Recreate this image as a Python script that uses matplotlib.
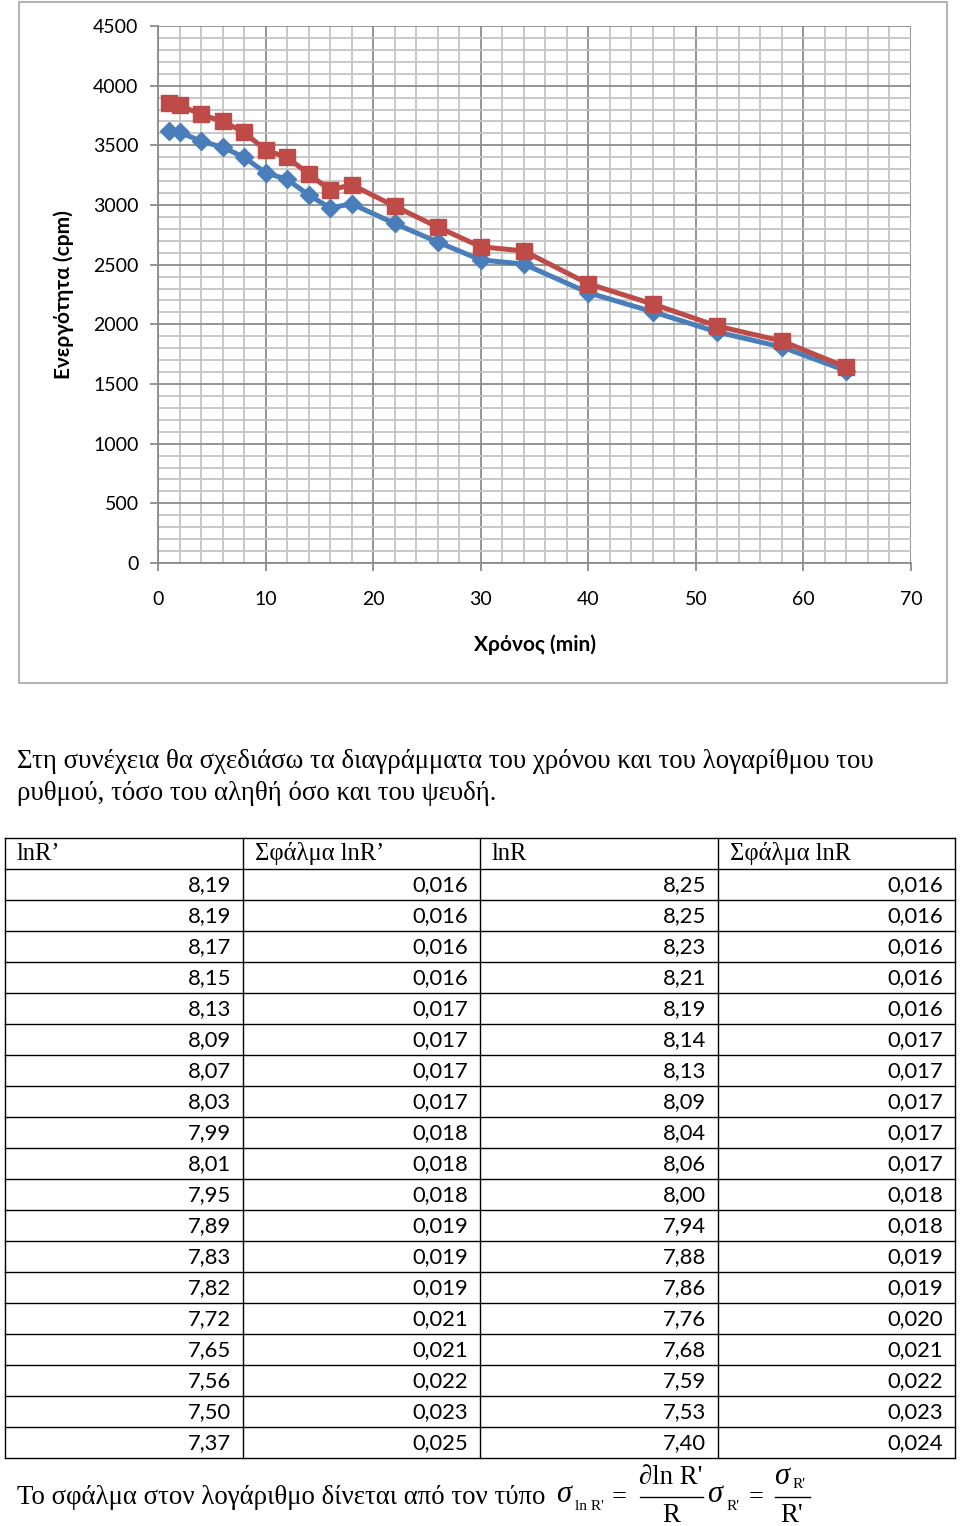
import matplotlib
matplotlib.use("Agg")
import matplotlib.pyplot as plt
from matplotlib.ticker import MultipleLocator
from matplotlib.patches import Rectangle

# ---------------- data ----------------
time_min = [1, 2, 4, 6, 8, 10, 12, 14, 16, 18, 22, 26, 30, 34, 40, 46, 52, 58, 64]
rate_corr = [3620, 3610, 3535, 3485, 3400, 3270, 3215, 3085, 2975, 3010,
             2845, 2690, 2540, 2505, 2265, 2105, 1935, 1810, 1610]   # blue (R')
rate_true = [3855, 3835, 3760, 3700, 3610, 3460, 3400, 3260, 3125, 3170,
             2990, 2815, 2650, 2615, 2340, 2170, 1985, 1860, 1640]   # red (R)

col_headers = ["lnR’", "Σφάλμα lnR’", "lnR", "Σφάλμα lnR"]
lnRp = ["8,19", "8,19", "8,17", "8,15", "8,13", "8,09", "8,07", "8,03", "7,99", "8,01",
        "7,95", "7,89", "7,83", "7,82", "7,72", "7,65", "7,56", "7,50", "7,37"]
err_lnRp = ["0,016", "0,016", "0,016", "0,016", "0,017", "0,017", "0,017", "0,017", "0,018", "0,018",
            "0,018", "0,019", "0,019", "0,019", "0,021", "0,021", "0,022", "0,023", "0,025"]
lnR = ["8,25", "8,25", "8,23", "8,21", "8,19", "8,14", "8,13", "8,09", "8,04", "8,06",
       "8,00", "7,94", "7,88", "7,86", "7,76", "7,68", "7,59", "7,53", "7,40"]
err_lnR = ["0,016", "0,016", "0,016", "0,016", "0,016", "0,017", "0,017", "0,017", "0,017", "0,017",
           "0,018", "0,018", "0,019", "0,019", "0,020", "0,021", "0,022", "0,023", "0,024"]

paragraph = ["Στη συνέχεια θα σχεδιάσω τα διαγράμματα του χρόνου και του λογαρίθμου του",
             "ρυθμού, τόσο του αληθή όσο και του ψευδή."]
formula_text = "Το σφάλμα στον λογάριθμο δίνεται από τον τύπο"

W, H = 960, 1526
SANS = ["Lato", "DejaVu Sans"]
SERIF = ["Liberation Serif", "DejaVu Serif"]

fig = plt.figure(figsize=(W / 100, H / 100), dpi=100)

# background overlay axes in pixel coordinates
bg = fig.add_axes([0, 0, 1, 1], zorder=0)
bg.set_xlim(0, W)
bg.set_ylim(H, 0)
bg.axis("off")

# chart frame
bg.add_patch(Rectangle((19, 2), 928, 681, fill=False, edgecolor="#a6a6a6", lw=1.2))

# ---------------- chart ----------------
L, R_, T, B = 158, 911, 26, 563
ax = fig.add_axes([L / W, 1 - B / H, (R_ - L) / W, (B - T) / H], zorder=2)
ax.set_facecolor("none")
ax.set_xlim(0, 70)
ax.set_ylim(0, 4500)
ax.xaxis.set_major_locator(MultipleLocator(10))
ax.xaxis.set_minor_locator(MultipleLocator(2))
ax.yaxis.set_major_locator(MultipleLocator(500))
ax.yaxis.set_minor_locator(MultipleLocator(100))
ax.grid(which="minor", color="#c4c4c4", lw=1.3)
ax.grid(which="major", color="#8c8c8c", lw=1.3)
ax.set_axisbelow(True)
for s in ["top", "right"]:
    ax.spines[s].set_visible(False)
for s in ["left", "bottom"]:
    ax.spines[s].set_color("#8c8c8c")
    ax.spines[s].set_linewidth(1.3)
ax.tick_params(which="major", length=6, width=1.3, color="#8c8c8c", labelsize=14)
ax.tick_params(axis="x", which="major", pad=14)
ax.tick_params(axis="y", which="major", pad=8)
ax.tick_params(which="minor", length=0)
for lab in ax.get_xticklabels() + ax.get_yticklabels():
    lab.set_family(SANS)

ax.plot(time_min, rate_corr, color="#4a7ebb", lw=3.6, marker="D", ms=9.5,
        markerfacecolor="#4a7ebb", markeredgecolor="#4a7ebb", zorder=3)
ax.plot(time_min, rate_true, color="#be4b48", lw=3.6, marker="s", ms=11,
        markerfacecolor="#be4b48", markeredgecolor="#be4b48", zorder=4)

ax.set_xlabel("Χρόνος (min)", family=SANS, fontsize=15, fontweight="bold", labelpad=19)
ax.set_ylabel("Ενεργότητα (cpm)", family=SANS, fontsize=15, fontweight="bold", labelpad=14)

# ---------------- paragraph ----------------
bg.text(17, 762, paragraph[0], family=SERIF, fontsize=19.4, va="center", ha="left")
bg.text(17, 793, paragraph[1], family=SERIF, fontsize=19.4, va="center", ha="left")

# ---------------- table ----------------
col_x = [5, 243, 480, 718, 955]
top, rh = 838, 31
nrows = len(lnRp) + 1
for i in range(nrows + 1):
    y = top + rh * i
    bg.plot([col_x[0], col_x[-1]], [y, y], color="black", lw=1.0)
for x in col_x:
    bg.plot([x, x], [top, top + rh * nrows], color="black", lw=1.0)
for j, h in enumerate(col_headers):
    bg.text(col_x[j] + 12, top + rh / 2, h, family=SERIF, fontsize=17.7,
            ha="left", va="center")
columns = [lnRp, err_lnRp, lnR, err_lnR]
for j, col in enumerate(columns):
    for i, v in enumerate(col):
        bg.text(col_x[j + 1] - 12, top + rh * (i + 1) + rh / 2 + 1, v, family=SANS,
                fontsize=15.8, ha="right", va="center")

# ---------------- formula ----------------
fy = 1497
bg.text(17, fy, formula_text, family=SERIF, fontsize=19.4, ha="left", va="center")
bg.text(556, fy - 2, "σ", family=SERIF, style="italic", fontsize=22, ha="left", va="center")
bg.text(575, fy + 9, "ln R'", family=SERIF, fontsize=11, ha="left", va="center")
bg.text(612, fy, "=", family=SERIF, fontsize=19, ha="left", va="center")
bg.text(671, fy - 19, "∂ln R'", family=SERIF, fontsize=19.4, ha="center", va="center")
bg.plot([640, 703], [fy, fy], color="black", lw=1.0)
bg.text(671, fy + 19, "R", family=SERIF, fontsize=19.4, ha="center", va="center")
bg.text(707, fy - 2, "σ", family=SERIF, style="italic", fontsize=22, ha="left", va="center")
bg.text(727, fy + 9, "R'", family=SERIF, fontsize=11, ha="left", va="center")
bg.text(749, fy, "=", family=SERIF, fontsize=19, ha="left", va="center")
bg.text(774, fy - 20, "σ", family=SERIF, style="italic", fontsize=22, ha="left", va="center")
bg.text(793, fy - 12, "R'", family=SERIF, fontsize=11, ha="left", va="center")
bg.plot([775, 810], [fy, fy], color="black", lw=1.0)
bg.text(792, fy + 19, "R'", family=SERIF, fontsize=19.4, ha="center", va="center")

fig.savefig("out.png", dpi=100)
